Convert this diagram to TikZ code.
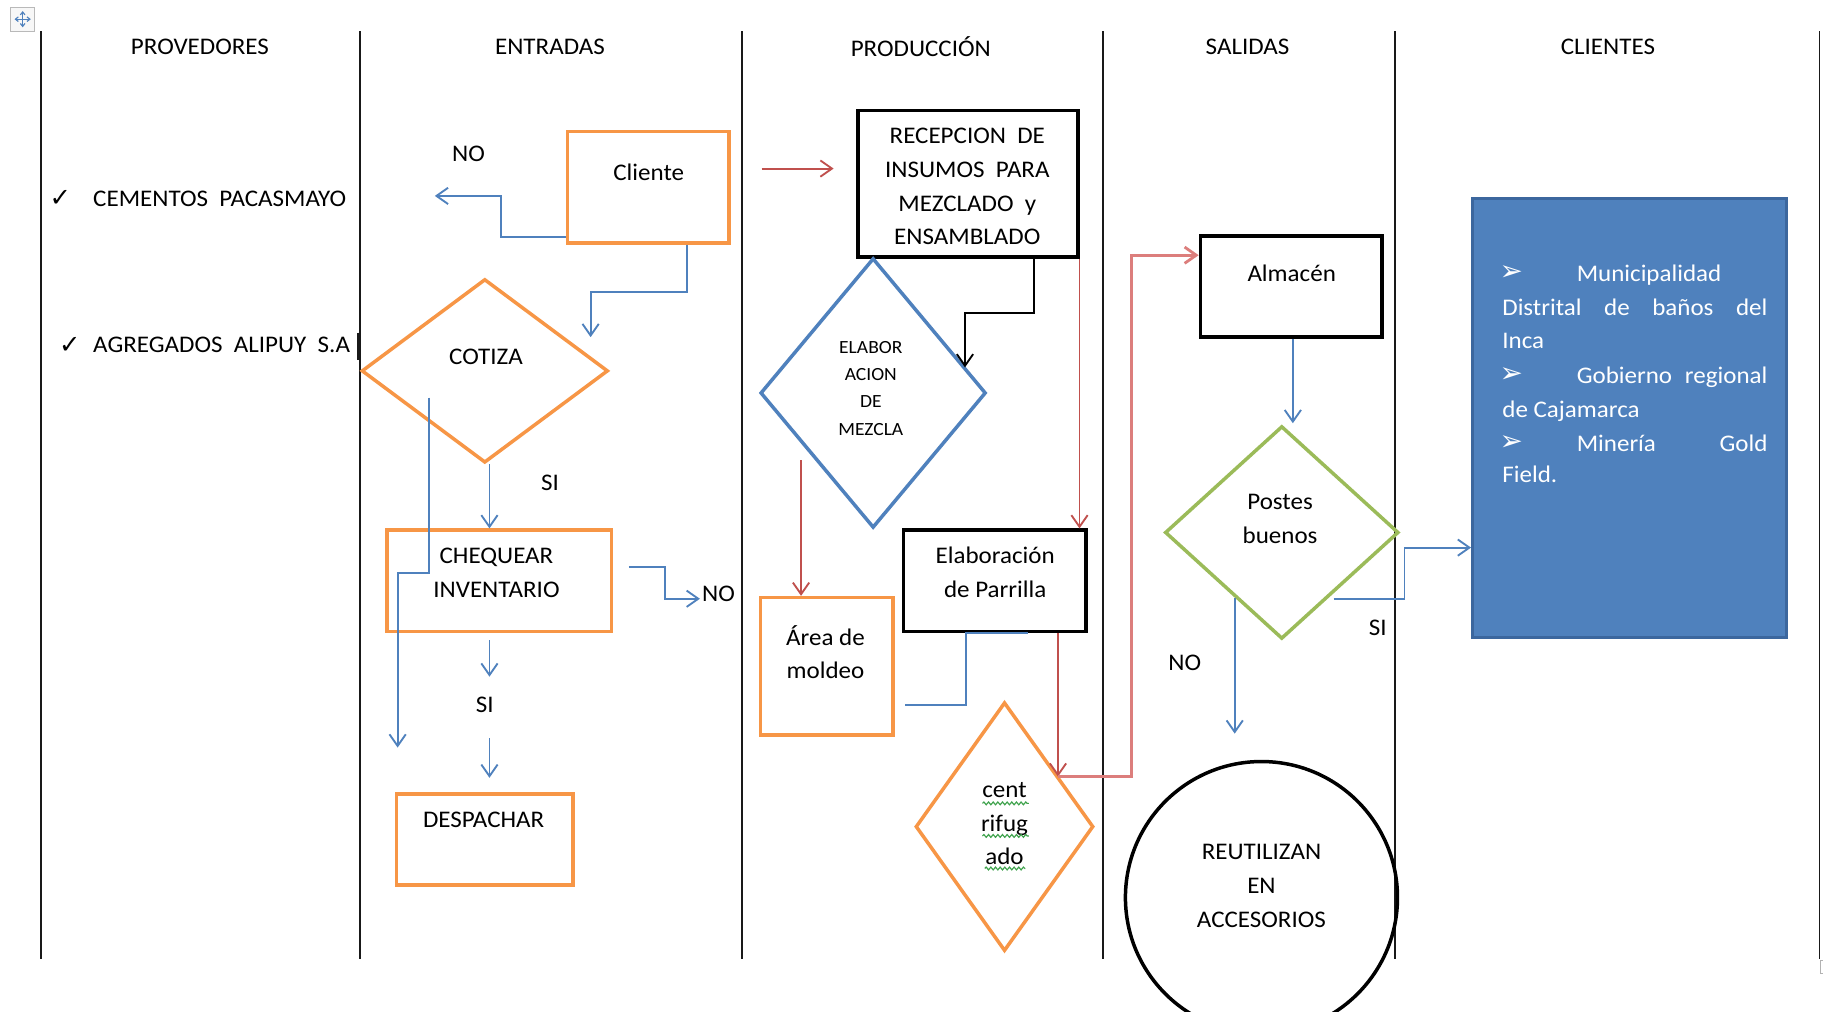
\documentclass[tikz,border=0pt]{standalone}
\usepackage{fontspec}
\setmainfont{Carlito}[FakeStretch=1.05]
\newfontfamily\symbolfont{DejaVu Sans}
\usetikzlibrary{arrows.meta,shapes.geometric,calc,decorations.pathmorphing}

\definecolor{flowblue}{HTML}{4F81BD}
\definecolor{flowboxedge}{HTML}{3C679E}
\definecolor{floworange}{HTML}{F79646}
\definecolor{flowgreen}{HTML}{9BBB59}
\definecolor{flowred}{HTML}{C0504D}
\definecolor{flowpink}{HTML}{DC7E7C}
\definecolor{spellgreen}{HTML}{3FA34D}

\begin{document}
\begin{tikzpicture}[x=1pt,y=-1pt,
  lane/.style={line width=1.6pt,black!90},
  txt/.style={font=\fontsize{20.5}{29}\selectfont,align=center,inner sep=0pt},
  smalltxt/.style={font=\fontsize{16}{23.5}\selectfont,align=center,inner sep=0pt},
  wtxt/.style={font=\fontsize{20.5}{29}\selectfont,inner sep=0pt,text=white,anchor=base west},
  bullet/.style={inner sep=0pt,text=white,font=\symbolfont\fontsize{24}{24}\selectfont},
  checkmark/.style={inner sep=0pt,font=\symbolfont\fontsize{22}{22}\selectfont},
  rbox/.style={draw,rectangle,inner sep=0pt,line width=3pt},
  obox/.style={rbox,draw=floworange},
  kbox/.style={rbox,draw=black},
  dbox/.style={draw,diamond,inner sep=0pt,line width=3pt},
  tip/.style={-{Straight Barb[length=10pt,width=14pt]}},
  bflow/.style={draw=flowblue,line width=1.6pt},
  rflow/.style={draw=flowred,line width=1.6pt},
  squiggle/.style={draw=spellgreen,line width=1pt,decorate,decoration={snake,amplitude=1.2pt,segment length=4pt}}
]
\useasboundingbox (0,0) rectangle (1568,870);
\fill[white] (0,0) rectangle (1568,870);
\clip (0,0) rectangle (1568,870);

% table move handle
\draw[gray!55,fill=gray!6,line width=0.8pt] (9,6) rectangle (30,27);
\draw[flowblue,line width=1pt,{Straight Barb[length=2.5pt,width=4pt]}-{Straight Barb[length=2.5pt,width=4pt]}] (12.5,16.5) -- (26.5,16.5);
\draw[flowblue,line width=1pt,{Straight Barb[length=2.5pt,width=4pt]}-{Straight Barb[length=2.5pt,width=4pt]}] (19.5,9.5) -- (19.5,23.5);

% swim-lane separators
\foreach \lx in {35,310,638,949,1200,1565}
  \draw[lane] (\lx,27) -- (\lx,825);
\draw[lane] (308,286) -- (308,310);
\draw[gray!60,line width=0.8pt] (1568,826) -- (1565.5,826) -- (1565.5,837) -- (1568,837);

% lane headers
\node[txt] (hprov) at (172,40) {PROVEDORES};
\node[txt] (hent)  at (473,40) {ENTRADAS};
\node[txt] (hprod) at (792,40) {PRODUCCIÓN};
\node[txt] (hsal)  at (1073,40) {SALIDAS};
\node[txt] (hcli)  at (1383,40) {CLIENTES};

% suppliers
\node[checkmark] (chk1) at (52,171) {✓};
\node[txt,anchor=west] (prov1) at (80,171) {CEMENTOS\ \ PACASMAYO};
\node[checkmark] (chk2) at (60,297) {✓};
\node[txt,anchor=west] (prov2) at (80,297) {AGREGADOS\ \ ALIPUY\ \ S.A};

% process shapes
\node[obox,minimum width=139pt,minimum height=96pt] (cliente) at (557.5,161) {};
\node[dbox,draw=floworange,minimum width=212pt,minimum height=158pt] (cotiza) at (417,319) {};
\node[obox,minimum width=193pt,minimum height=87pt] (chequear) at (429.5,499.5) {};
\node[obox,minimum width=152pt,minimum height=78pt] (despachar) at (417,722) {};
\node[kbox,minimum width=189pt,minimum height=126pt] (recepcion) at (832.5,158) {};
\node[dbox,draw=flowblue,minimum width=194pt,minimum height=232pt] (mezcla) at (751,338) {};
\node[obox,minimum width=114pt,minimum height=118pt] (moldeo) at (711,573) {};
\node[kbox,minimum width=157pt,minimum height=87pt] (parrilla) at (855.5,499.5) {};
\node[dbox,draw=floworange,minimum width=153pt,minimum height=214pt] (centrif) at (864,711) {};
\node[kbox,minimum width=156pt,minimum height=87pt] (almacen) at (1110.5,246.5) {};
\node[dbox,draw=flowgreen,minimum width=201pt,minimum height=183pt] (postes) at (1102.5,458) {};
\node[draw,circle,line width=3pt,minimum size=234pt,inner sep=0pt] (reutil) at (1085,772) {};
\node[draw=flowboxedge,fill=flowblue,line width=2.5pt,minimum width=270pt,minimum height=377pt,inner sep=0pt] (clientes) at (1401.5,359.5) {};

% connector end points
\coordinate (noend) at (374,168.5);
\coordinate (cotizain) at (508,290);
\coordinate (cotizaleft) at (369,342);
\coordinate (longend) at (342,643);
\coordinate (chqright) at (541,487.5);
\coordinate (chqno) at (602,515);
\coordinate (sia) at (421,550.5);
\coordinate (sib) at (421,582);
\coordinate (sic) at (421,635);
\coordinate (sid) at (421,669);
\coordinate (redin) at (655,145);
\coordinate (redout) at (717,145);
\coordinate (mezin) at (830,316);
\coordinate (mezout) at (689,396);
\coordinate (moldin) at (778,606.5);
\coordinate (cenin) at (910,668);
\coordinate (posin) at (1112,364);
\coordinate (posout) at (1147,515.5);
\coordinate (posno) at (1062,514);
\coordinate (reuin) at (1062,631);

% entradas connectors
\draw[bflow,tip] (cliente.west |- 0,204) -| (431,168.5) -- (noend);
\draw[bflow,tip] ($(cliente.south)+(33.5,0)$) |- (508,251) -- (cotizain);
\draw[bflow,tip] ($(cotiza.south)+(4,0)$) -- ($(chequear.north)+(-8.5,0)$);
\draw[bflow,tip] (cotizaleft) |- (342,492.5) -- (longend);
\draw[bflow,tip] (chqright) -| (572,515) -- (chqno);
\draw[bflow,tip] (sia) -- (sib);
\draw[bflow,tip] (sic) -- (sid);

% produccion connectors
\draw[rflow,tip] (redin) -- (redout);
\draw[line width=1.6pt,tip] ($(recepcion.south)+(56.5,0)$) |- (830,269) -- (mezin);
\draw[rflow,tip] (recepcion.south east) -- (recepcion.south east |- parrilla.north);
\draw[rflow,tip] (mezout) -- (mezout |- moldeo.north);
\draw[bflow] ($(parrilla.south)+(28.5,0)$) -- ($(parrilla.south)+(-24.5,0)$) |- (moldin);
\draw[rflow,tip] ($(parrilla.south)+(54.5,0)$) -- (cenin);
\draw[draw=flowpink,line width=2.4pt,tip] (cenin) -- (973,668) |- (almacen.west |- 0,219.5);

% salidas connectors
\draw[bflow,tip] ($(almacen.south)+(1.5,0)$) -- (posin);
\draw[bflow,tip] (posout) -| (1208,471) -- (clientes.west |- 0,471);
\draw[bflow,tip] (posno) -- (reuin);

% labels
\node[txt] (tcliente) at (558,148) {Cliente};
\node[txt] (tno1) at (403,132) {NO};
\node[txt] (tcotiza) at (418,307) {COTIZA};
\node[txt] (tsi1) at (473,415) {SI};
\node[txt] (tcheq) at (427,492.5) {CHEQUEAR\\INVENTARIO};
\node[txt] (tno2) at (618,511) {NO};
\node[txt] (tsi2) at (417,606) {SI};
\node[txt] (tdesp) at (416,705) {DESPACHAR};
\node[txt] (trecep) at (832,160.5) {RECEPCION\ \ DE\\INSUMOS\ \ PARA\\MEZCLADO\ \ y\\ENSAMBLADO};
\node[smalltxt] (tmezcla) at (749,334) {ELABOR\\ACION\\DE\\MEZCLA};
\node[txt] (tmoldeo) at (710,561) {Área de\\moldeo};
\node[txt] (tparr) at (856,492.5) {Elaboración\\de Parrilla};
\node[txt] (tcent) at (864,708.5) {cent\\rifug\\ado};
\draw[squiggle] (845,691) -- (885,691);
\draw[squiggle] (845,719) -- (885,719);
\draw[squiggle] (847,747) -- (882,747);
\node[txt] (talm) at (1111,235) {Almacén};
\node[txt] (tpostes) at (1101,446.5) {Postes\\buenos};
\node[txt] (tsi3) at (1185,540) {SI};
\node[txt] (tno3) at (1019,570) {NO};
\node[txt] (treut) at (1085,762) {REUTILIZAN\\EN\\ACCESORIOS};

% client list
\node[bullet] (b1) at (1300,235) {➢};
\node[wtxt] (c1) at (1356,242) {Municipalidad};
\node[wtxt] (c2) at (1292,271) {\hbox to 228pt{Distrital\hfill de\hfill baños\hfill del}};
\node[wtxt] (c3) at (1292,300) {Inca};
\node[bullet] (b2) at (1300,323) {➢};
\node[wtxt] (c4) at (1356,330) {\hbox to 164pt{Gobierno\hfill regional}};
\node[wtxt] (c5) at (1292,359) {de Cajamarca};
\node[bullet] (b3) at (1300,381) {➢};
\node[wtxt] (c6) at (1356,388) {\hbox to 164pt{Minería\hfill Gold}};
\node[wtxt] (c7) at (1292,415) {Field.};
\end{tikzpicture}
\end{document}
